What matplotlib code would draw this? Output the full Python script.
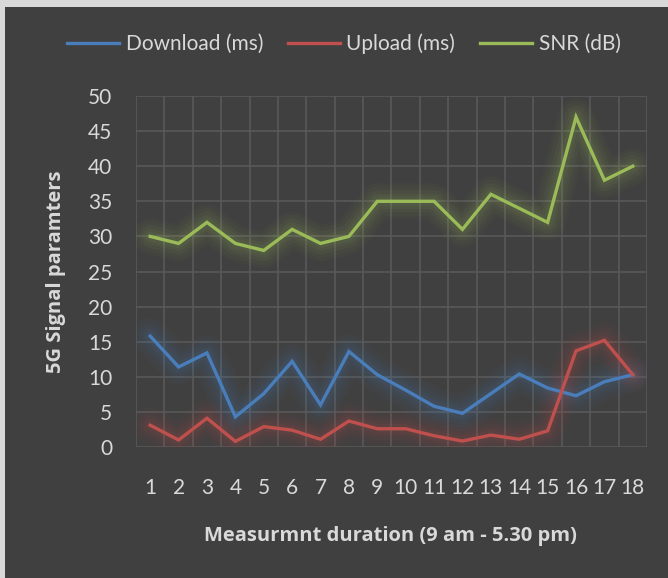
import numpy as np
import matplotlib.pyplot as plt
from matplotlib.patches import Rectangle

# データ
slots = np.arange(1, 19)
download = [15.8, 11.4, 13.4, 4.3, 7.6, 12.2, 6.0, 13.6, 10.3, 8.1, 5.8, 4.8, 7.6, 10.4, 8.4, 7.3, 9.3, 10.3]
upload = [3.1, 1.0, 4.1, 0.8, 2.9, 2.4, 1.1, 3.7, 2.6, 2.6, 1.6, 0.85, 1.7, 1.1, 2.3, 13.7, 15.2, 10.3]
snr = [30, 29, 32, 29, 28, 31, 29, 30, 35, 35, 35, 31, 36, 34, 32, 47, 38, 40]

series = [
    (download, "Download (ms)", "#4a7ebb"),
    (upload, "Upload (ms)", "#c0504d"),
    (snr, "SNR (dB)", "#9bbb59"),
]

plt.rcParams['font.family'] = ['Lato', 'DejaVu Sans']
txt = '#d9d9d9'
bg = '#404040'

fig = plt.figure(figsize=(6.68, 5.78), dpi=100, facecolor=bg)
# 左と上の明るい縁
fig.patches.append(Rectangle((0, 0), 5 / 668, 1, transform=fig.transFigure,
                             facecolor='#d9d9d9', edgecolor='none'))
fig.patches.append(Rectangle((0, 1 - 7 / 578), 1, 7 / 578, transform=fig.transFigure,
                             facecolor='#d9d9d9', edgecolor='none'))

ax = fig.add_axes([136 / 668, 1 - 447 / 578, 511 / 668, 351 / 578])
ax.set_facecolor(bg)

handles = []
for vals, lab, col in series:
    # 光彩効果 (ぼかし)
    for w, a in [(26, 0.035), (21, 0.04), (16, 0.05), (11, 0.06), (7, 0.07)]:
        ax.plot(slots, vals, color=col, lw=w, alpha=a, solid_capstyle='round',
                solid_joinstyle='round', zorder=2)
    h, = ax.plot(slots, vals, color=col, lw=2.4, label=lab, zorder=3,
                 solid_joinstyle='miter')
    handles.append(h)

ax.set_xlim(0.5, 18.5)
ax.set_ylim(0, 50)
ax.set_yticks(np.arange(0, 51, 5))
ax.set_xticks(slots)
ax.set_xticks(np.arange(0.5, 18.6, 1), minor=True)
ax.grid(which='minor', axis='x', color='#595959', lw=1.2)
ax.grid(which='major', axis='y', color='#595959', lw=1.2)
ax.set_axisbelow(True)
ax.tick_params(which='both', length=0, colors=txt, labelsize=15)
ax.tick_params(axis='x', pad=22)
ax.tick_params(axis='y', pad=17)
for s in ax.spines.values():
    s.set_visible(False)

# 軸ラベル
fig.text(56 / 668, 1 - 272 / 578, "5G Signal paramters", rotation=90, ha='center', va='center',
         color=txt, fontsize=14.5, fontweight='bold', family=['Open Sans', 'DejaVu Sans'])
fig.text(390 / 668, 1 - 536 / 578, "Measurmnt duration (9 am - 5.30 pm)", ha='center', va='center',
         color=txt, fontsize=14.5, fontweight='bold', family=['Open Sans', 'DejaVu Sans'])

leg = fig.legend(handles=handles, loc='center', bbox_to_anchor=(344 / 668, 1 - 44 / 578),
                 ncol=3, frameon=False, fontsize=15, handlelength=2.5,
                 handletextpad=0.3, columnspacing=1.2)
for t in leg.get_texts():
    t.set_color(txt)

fig.savefig("out.png", dpi=100, facecolor=fig.get_facecolor())
